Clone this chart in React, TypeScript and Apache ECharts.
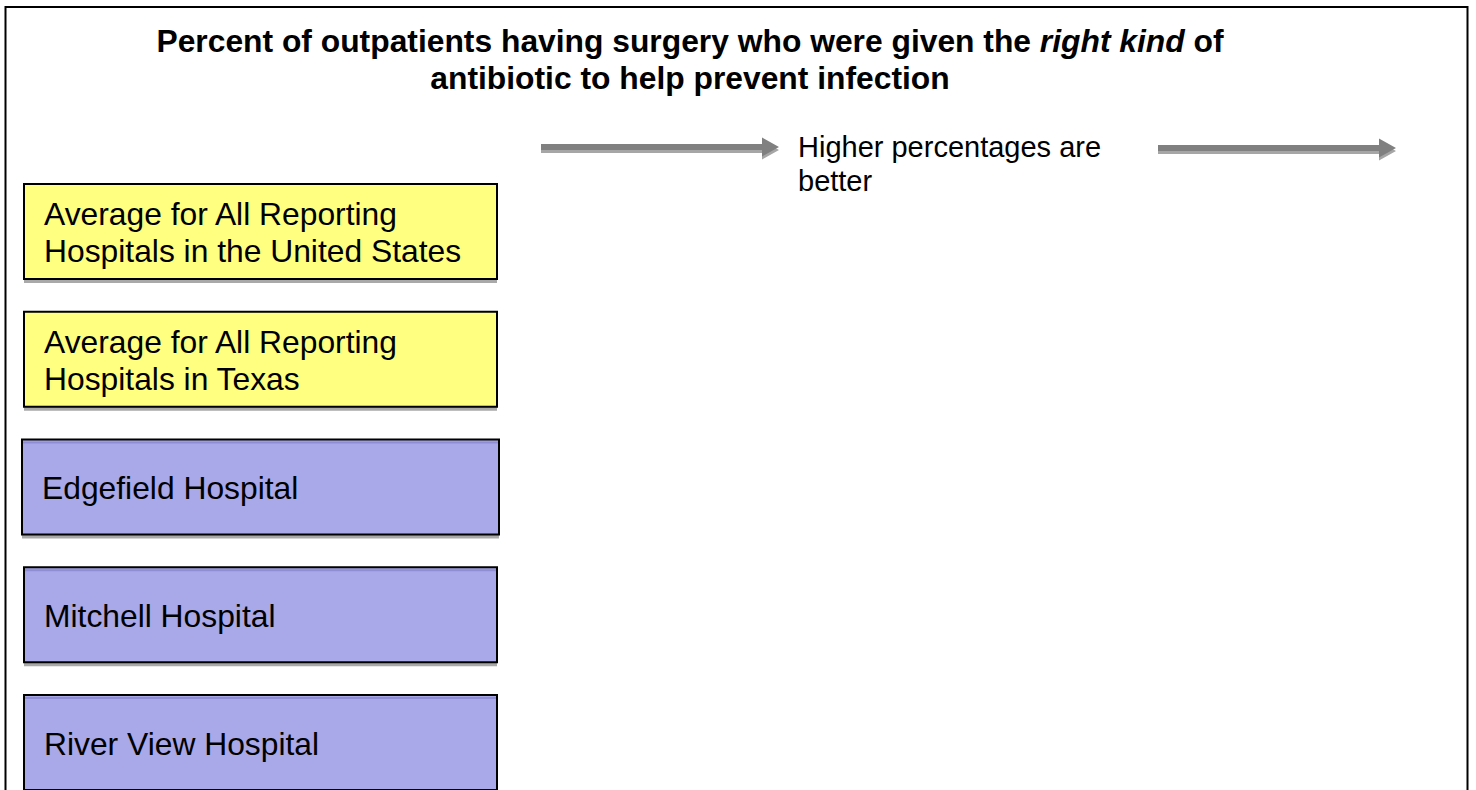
import React, { useEffect, useRef } from "react";
import * as echarts from "echarts";

const titleLine1 = ["Percent of outpatients having surgery who were given the ", "right kind", " of"];
const titleLine2 = "antibiotic to help prevent infection";
const directionNote = ["Higher percentages are", "better"];
const categories = [
  "Average for All Reporting\nHospitals in the United States",
  "Average for All Reporting\nHospitals in Texas",
  "Edgefield Hospital",
  "Mitchell Hospital",
  "River View Hospital",
];
const categoryKinds = ["average", "average", "hospital", "hospital", "hospital"];

const FONT = "'Liberation Sans', Arial, sans-serif";

function arrow(x0: number, x1: number, y: number): any[] {
  const shaft = 3;
  const headLen = 17;
  const headHalf = 9.5;
  const pts = (dy: number) => [
    [x0, y - shaft + dy],
    [x1 - headLen, y - shaft + dy],
    [x1 - headLen, y - headHalf + dy],
    [x1, y + dy],
    [x1 - headLen, y + headHalf + dy],
    [x1 - headLen, y + shaft + dy],
    [x0, y + shaft + dy],
  ];
  return [
    { type: "polygon", shape: { points: pts(3) }, style: { fill: "#a6a6a6" }, z: 1 },
    { type: "polygon", shape: { points: pts(0) }, style: { fill: "#808080" }, z: 2 },
  ];
}

export default function App() {
  const ref = useRef<HTMLDivElement>(null);
  useEffect(() => {
    document.body.style.margin = "0";
    const chart = echarts.init(ref.current!, null, { renderer: "svg" });
    const elements: any[] = [];
    elements.push({
      type: "rect",
      shape: { x: 5.5, y: 7, width: 1462, height: 900 },
      style: { fill: "#fff", stroke: "#000", lineWidth: 2 },
      z: 0,
    });
    elements.push({
      type: "text",
      x: 690,
      y: 59,
      style: {
        text: `{b|${titleLine1[0]}}{bi|${titleLine1[1]}}{b|${titleLine1[2]}}\n{b|${titleLine2}}`,
        align: "center",
        verticalAlign: "middle",
        rich: {
          b: { fontFamily: FONT, fontWeight: "bold", fontSize: 31.8, lineHeight: 37, fill: "#000" },
          bi: { fontFamily: FONT, fontWeight: "bold", fontStyle: "italic", fontSize: 31.8, lineHeight: 37, fill: "#000" },
        },
      },
      z: 5,
    });
    elements.push(...arrow(541, 779, 147));
    elements.push(...arrow(1158, 1396, 148));
    elements.push({
      type: "text",
      x: 798,
      y: 164,
      style: {
        text: directionNote.join("\n"),
        fontFamily: FONT,
        fontSize: 29,
        lineHeight: 34,
        fill: "#000",
        align: "left",
        verticalAlign: "middle",
      },
      z: 5,
    });
    const top0 = 184;
    const step = 127.75;
    const h = 95;
    categories.forEach((label, i) => {
      const isAvg = categoryKinds[i] === "average";
      const wide = i === 2;
      const x = wide ? 22 : 24;
      const w = wide ? 477 : 473;
      const y = top0 + i * step;
      elements.push({
        type: "rect",
        shape: { x, y: y + 4, width: w, height: h },
        style: { fill: "#a9a9a9" },
        z: 2,
      });
      elements.push({
        type: "rect",
        shape: { x, y, width: w, height: h },
        style: { fill: isAvg ? "#ffff80" : "#a9a8e8", stroke: "#000", lineWidth: 2 },
        z: 3,
      });
      if (!isAvg) {
        elements.push({
          type: "line",
          shape: { x1: x + 1, y1: y + 3, x2: x + w - 1, y2: y + 3 },
          style: { stroke: "#8e8dd6", lineWidth: 2 },
          z: 4,
        });
      }
      elements.push({
        type: "text",
        x: wide ? 42 : 44,
        y: y + h / 2 + 1,
        style: {
          text: label,
          fontFamily: FONT,
          fontSize: 31.8,
          lineHeight: 36.5,
          fill: "#000",
          align: "left",
          verticalAlign: "middle",
          textShadowColor: isAvg ? "transparent" : "rgba(90,90,90,0.6)",
          textShadowOffsetX: isAvg ? 0 : 1.5,
          textShadowOffsetY: isAvg ? 0 : 2.5,
          textShadowBlur: 0,
        },
        z: 5,
      });
    });
    chart.setOption({
      animation: false,
      backgroundColor: "#fff",
      graphic: { elements },
    });
    return () => chart.dispose();
  }, []);
  return (
    <div
      ref={ref}
      style={{ position: "fixed", left: 0, top: 0, width: 1476, height: 790 }}
    />
  );
}
